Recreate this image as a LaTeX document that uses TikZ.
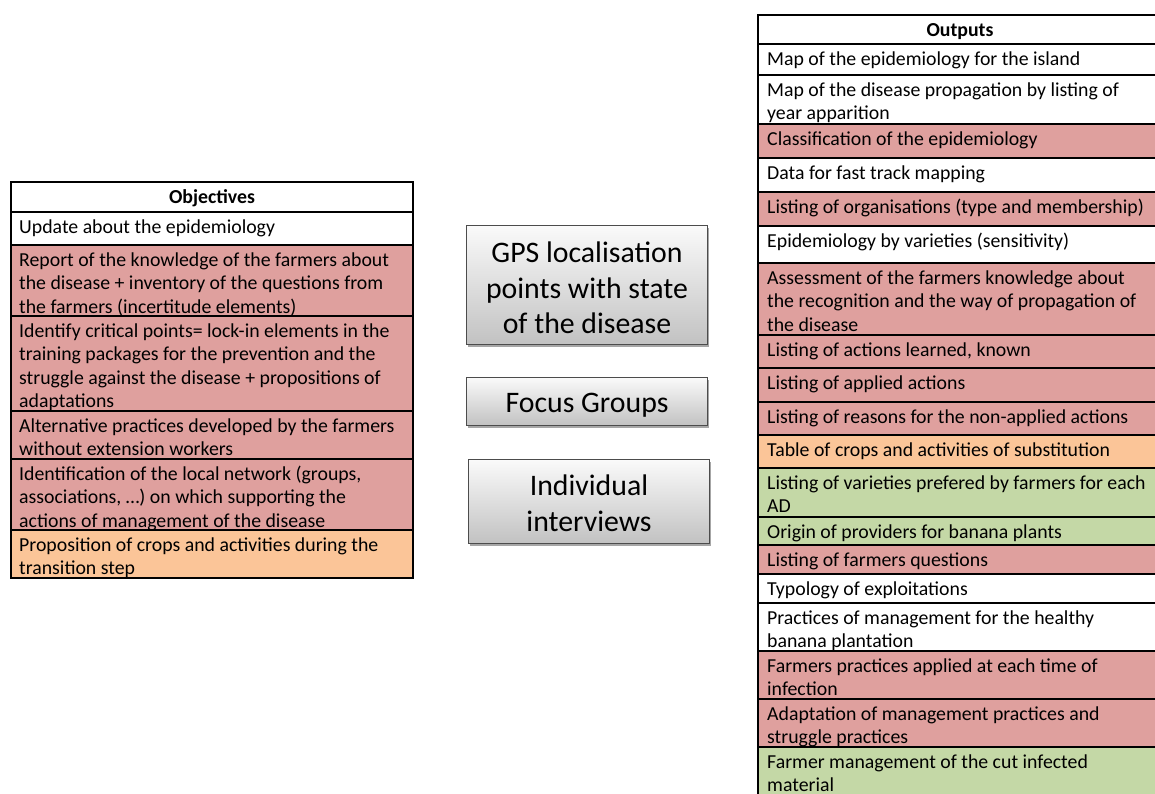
\documentclass[tikz,border=0pt]{standalone}
\usepackage{fontspec}
\setmainfont{Carlito}
\usetikzlibrary{shadows}
\definecolor{pinkc}{HTML}{DFA09E}
\definecolor{orangec}{HTML}{FBC598}
\definecolor{greenc}{HTML}{C4D8A6}
\newcommand\fl{\rule{0pt}{18.6pt}}
\tikzset{
  cell/.style={draw=black, line width=1.3pt, inner sep=0pt, outer sep=0pt, anchor=north west},
  celltxt/.style={anchor=north west, inner sep=0pt, align=left, font=\fontsize{19.8}{23.3}\selectfont},
  headtxt/.style={anchor=base, inner sep=0pt, font=\fontsize{19.8}{23.3}\selectfont\bfseries},
  midbox/.style={draw=black!70, line width=1pt, top color=black!2, bottom color=black!24,
    drop shadow={shadow xshift=1.2pt, shadow yshift=-2pt, opacity=0.35, fill=black},
    anchor=north west, inner sep=0pt},
  midtxt/.style={align=center, inner sep=0pt, font=\fontsize{29.8}{35.5}\selectfont}
}
% name, x, ytop, ybot, width, colour, text, text indent
\newcommand\trow[8]{%
  \node[cell, fill=#6, minimum width=#5, minimum height=#4-#3] (#1) at (#2,-#3) {};
  \node[celltxt] (#1t) at ([xshift=#8pt,yshift=-2.6pt]#1.north west) {\fl #7};
}
\begin{document}
\begin{tikzpicture}[x=1pt,y=1pt]
\useasboundingbox (0,0) rectangle (1155,-793);
\clip (0,0) rectangle (1155,-793);
% ---------- Objectives ----------
\node[cell, fill=white, minimum width=402, minimum height=30] (ohead) at (11,-182) {};
\node[headtxt] (oheadt) at ([yshift=-21pt]ohead.north) {Objectives};
\trow{o1}{11}{212}{245}{402}{white}{Update about the epidemiology}{8}
\trow{o2}{11}{245}{316}{402}{pinkc}{Report of the knowledge of the farmers about\\the disease + inventory of the questions from\\the farmers (incertitude elements)}{8}
\trow{o3}{11}{316}{411}{402}{pinkc}{Identify critical points= lock-in elements in the\\training packages for the prevention and the\\struggle against the disease + propositions of\\adaptations}{8}
\trow{o4}{11}{411}{459}{402}{pinkc}{Alternative practices developed by the farmers\\without extension workers}{8}
\trow{o5}{11}{459}{530}{402}{pinkc}{Identification of the local network (groups,\\associations, …) on which supporting the\\actions of management of the disease}{8}
\trow{o6}{11}{530}{578}{402}{orangec}{Proposition of crops and activities during the\\transition step}{8}
% ---------- Middle boxes ----------
\node[midbox, minimum width=241, minimum height=119] (gps) at (466,-225) {};
\node[midtxt] (gpst) at ([yshift=-3pt]gps.center) {GPS localisation\\points with state\\of the disease};
\node[midbox, minimum width=241, minimum height=48] (focus) at (466,-377) {};
\node[midtxt] (focust) at ([yshift=-4pt]focus.center) {Focus Groups};
\node[midbox, minimum width=241, minimum height=84] (indiv) at (468,-459) {};
\node[midtxt] (indivt) at ([yshift=-2pt]indiv.center) {Individual\\interviews};
% ---------- Outputs ----------
\node[cell, fill=white, minimum width=410, minimum height=29] (phead) at (758,-15) {};
\node[headtxt] (pheadt) at ([yshift=-21pt,xshift=-3pt]phead.north) {Outputs};
\trow{p1}{758}{44}{75}{410}{white}{Map of the epidemiology for the island}{9}
\trow{p2}{758}{75}{124}{410}{white}{Map of the disease propagation by listing of\\year apparition}{9}
\trow{p3}{758}{124}{158}{410}{pinkc}{Classification of the epidemiology}{9}
\trow{p4}{758}{158}{192}{410}{white}{Data for fast track mapping}{9}
\trow{p5}{758}{192}{226}{410}{pinkc}{Listing of organisations (type and membership)}{9}
\trow{p6}{758}{226}{263}{410}{white}{Epidemiology by varieties (sensitivity)}{9}
\trow{p7}{758}{263}{335}{410}{pinkc}{Assessment of the farmers knowledge about\\the recognition and the way of propagation of\\the disease}{9}
\trow{p8}{758}{335}{368}{410}{pinkc}{Listing of actions learned, known}{9}
\trow{p9}{758}{368}{402}{410}{pinkc}{Listing of applied actions}{9}
\trow{p10}{758}{402}{435}{410}{pinkc}{Listing of reasons for the non-applied actions}{9}
\trow{p11}{758}{435}{468}{410}{orangec}{Table of crops and activities of substitution}{9}
\trow{p12}{758}{468}{517}{410}{greenc}{Listing of varieties prefered by farmers for each\\AD}{9}
\trow{p13}{758}{517}{545}{410}{greenc}{Origin of providers for banana plants}{9}
\trow{p14}{758}{545}{574}{410}{pinkc}{Listing of farmers questions}{9}
\trow{p15}{758}{574}{603}{410}{white}{Typology of exploitations}{9}
\trow{p16}{758}{603}{651}{410}{white}{Practices of management for the healthy\\banana plantation}{9}
\trow{p17}{758}{651}{699}{410}{pinkc}{Farmers practices applied at each time of\\infection}{9}
\trow{p18}{758}{699}{747}{410}{pinkc}{Adaptation of management practices and\\struggle practices}{9}
\trow{p19}{758}{747}{805}{410}{greenc}{Farmer management of the cut infected\\material}{9}
\end{tikzpicture}
\end{document}
